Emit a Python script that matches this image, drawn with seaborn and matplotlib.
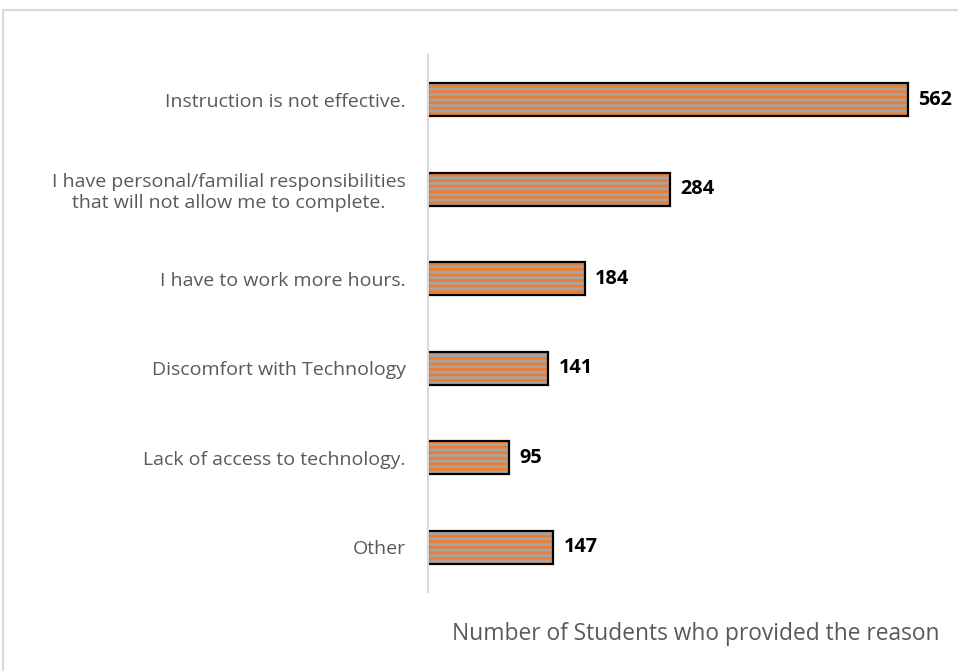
import matplotlib
matplotlib.use("Agg")
import matplotlib.pyplot as plt
import seaborn as sns
import pandas as pd
from matplotlib.lines import Line2D

categories = [
    "Instruction is not effective.",
    "I have personal/familial responsibilities\nthat will not allow me to complete.",
    "I have to work more hours.",
    "Discomfort with Technology",
    "Lack of access to technology.",
    "Other",
]
counts = [562, 284, 184, 141, 95, 147]
xlabel = "Number of Students who provided the reason"

sns.set_theme(style="white")
plt.rcParams["font.family"] = ["Open Sans", "DejaVu Sans"]
plt.rcParams["hatch.linewidth"] = 2.0

GRAY = "#A5A5A5"
ORANGE = "#ED7D31"
TEXT = "#595959"

df = pd.DataFrame({"reason": categories, "count": counts})

fig = plt.figure(figsize=(9.58, 6.71), dpi=100)
ax = fig.add_axes([428 / 958, 1 - 592 / 671, 512 / 958, (592 - 55) / 671])

sns.barplot(data=df, x="count", y="reason", orient="h", color=GRAY,
            width=0.37, ax=ax, saturation=1, linewidth=0)
for p in ax.patches:
    p.set_hatch("---")
    p.set_edgecolor(ORANGE)
    p.set_linewidth(0)
sns.barplot(data=df, x="count", y="reason", orient="h", fill=False,
            width=0.37, ax=ax, edgecolor="black", linewidth=1.6)

for i, v in enumerate(counts):
    ax.text(v + 12, i, str(v), va="center", ha="left", fontsize=14.3,
            fontweight="bold", color="black")

ax.set_xlim(0, 600)
ax.set_ylim(5.5, -0.5)
ax.set_xlabel("")
ax.set_ylabel("")
ax.set_xticks([])
for s in ["top", "right", "bottom"]:
    ax.spines[s].set_visible(False)
ax.spines["left"].set_color("#D9D9D9")
ax.spines["left"].set_linewidth(1.5)
ax.tick_params(axis="y", length=0, pad=16, labelsize=14, labelcolor=TEXT)
for t in ax.get_yticklabels():
    t.set_ha("right")
    t.set_multialignment("center")

fig.text(696 / 958, 1 - 634 / 671, xlabel, ha="center", va="center",
         fontsize=16.4, color=TEXT)

fig.add_artist(Line2D([3 / 958, 3 / 958], [0, 1 - 10 / 671], color="#D9D9D9",
                      lw=1.5, transform=fig.transFigure))
fig.add_artist(Line2D([3 / 958, 1], [1 - 10 / 671, 1 - 10 / 671], color="#D9D9D9",
                      lw=1.5, transform=fig.transFigure))

fig.savefig("out.png", dpi=100)
